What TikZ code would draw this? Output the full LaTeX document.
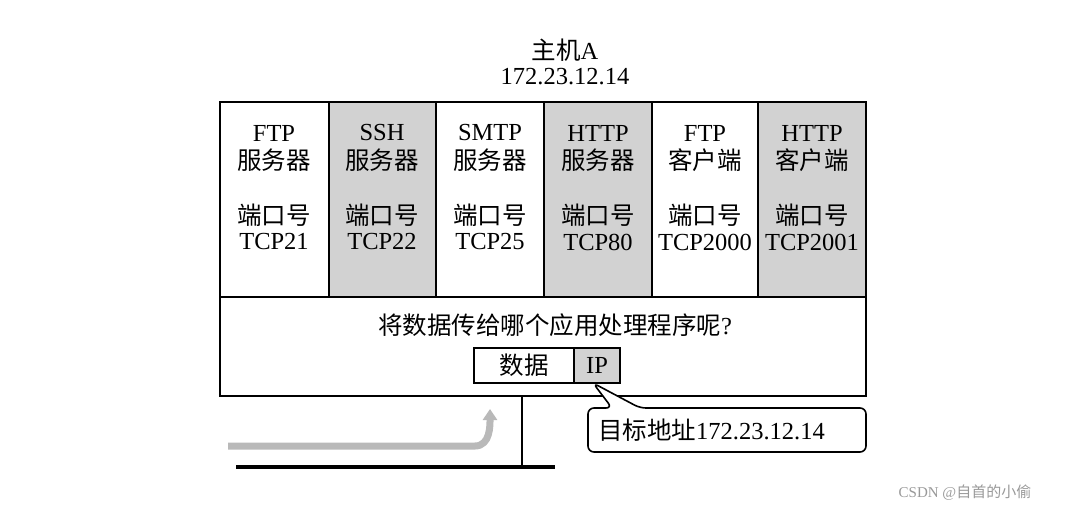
\documentclass[tikz,border=0pt]{standalone}
\usepackage{fontspec}
\setmainfont{Liberation Serif}
\newfontfamily\cjk{Noto Sans CJK SC}
\usetikzlibrary{arrows.meta}
\begin{document}
\begin{tikzpicture}[x=1pt,y=-1pt,
  txt/.style={font=\fontsize{24.5}{28}\selectfont, align=center, inner sep=0},
  colw/.style={draw, line width=1.6pt, fill=white},
  colg/.style={draw, line width=1.6pt, fill=gray!35}]
\useasboundingbox (0,0) rectangle (1067,512);
\draw[line width=1.6pt] (220,102) rectangle (866,396);
\foreach \a/\b/\s [count=\i] in {220/329/colw,329/436/colg,436/544/colw,544/652/colg,652/758/colw,758/866/colg}
  \draw[\s] (\a,102) rectangle (\b,297);
\node[txt] (t1) at (565,50) {{\cjk 主机}A};
\node[txt] (t2) at (565,77) {172.23.12.14};
\foreach \x/\n/\r/\p [count=\i] in {274/FTP/服务器/21, 382/SSH/服务器/22, 490/SMTP/服务器/25, 598/HTTP/服务器/80, 705/FTP/客户端/2000, 812/HTTP/客户端/2001}{
  \node[txt] (n\i) at (\x,133) {\n};
  \node[txt] (r\i) at (\x,160) {\cjk \r};
  \node[txt] (k\i) at (\x,215) {\cjk 端口号};
  \node[txt] (p\i) at (\x,242) {TCP\p};
}
\node[txt] (q) at (555,325) {{\cjk 将数据传给哪个应用处理程序呢}?};
\draw[line width=1.4pt] (474,348) rectangle (574,383);
\draw[line width=1.4pt, fill=gray!35] (574,348) rectangle (620,383);
\node[txt] (d) at (524,365) {\cjk 数据};
\node[txt] (ip) at (597,365) {IP};
\draw[line width=1.6pt, rounded corners=6pt, fill=white]
  (612,408) -- (593,383) -- (640,408) -- (866,408) -- (866,452) -- (588,452) -- (588,408) -- cycle;
\node[txt, anchor=west] (lab) at (598,430) {{\cjk 目标地址}172.23.12.14};
\coordinate (v1) at (522,396); \coordinate (v2) at (522,467);
\coordinate (h1) at (236,467); \coordinate (h2) at (555,467);
\draw[line width=1.6pt] (v1) -- (v2);
\draw[line width=3.5pt] (h1) -- (h2);
\coordinate (g1) at (228,446); \coordinate (g2) at (490,409);
\draw[gray!55, line width=7pt, -{Triangle[length=11pt,width=14pt]}] (g1) -- (475,446) to[out=0,in=-90] (g2);
\node[font=\fontsize{15}{18}\selectfont, text=gray!80] (w) at (965,493) {CSDN @{\cjk 自首的小偷}};
\end{tikzpicture}
\end{document}
